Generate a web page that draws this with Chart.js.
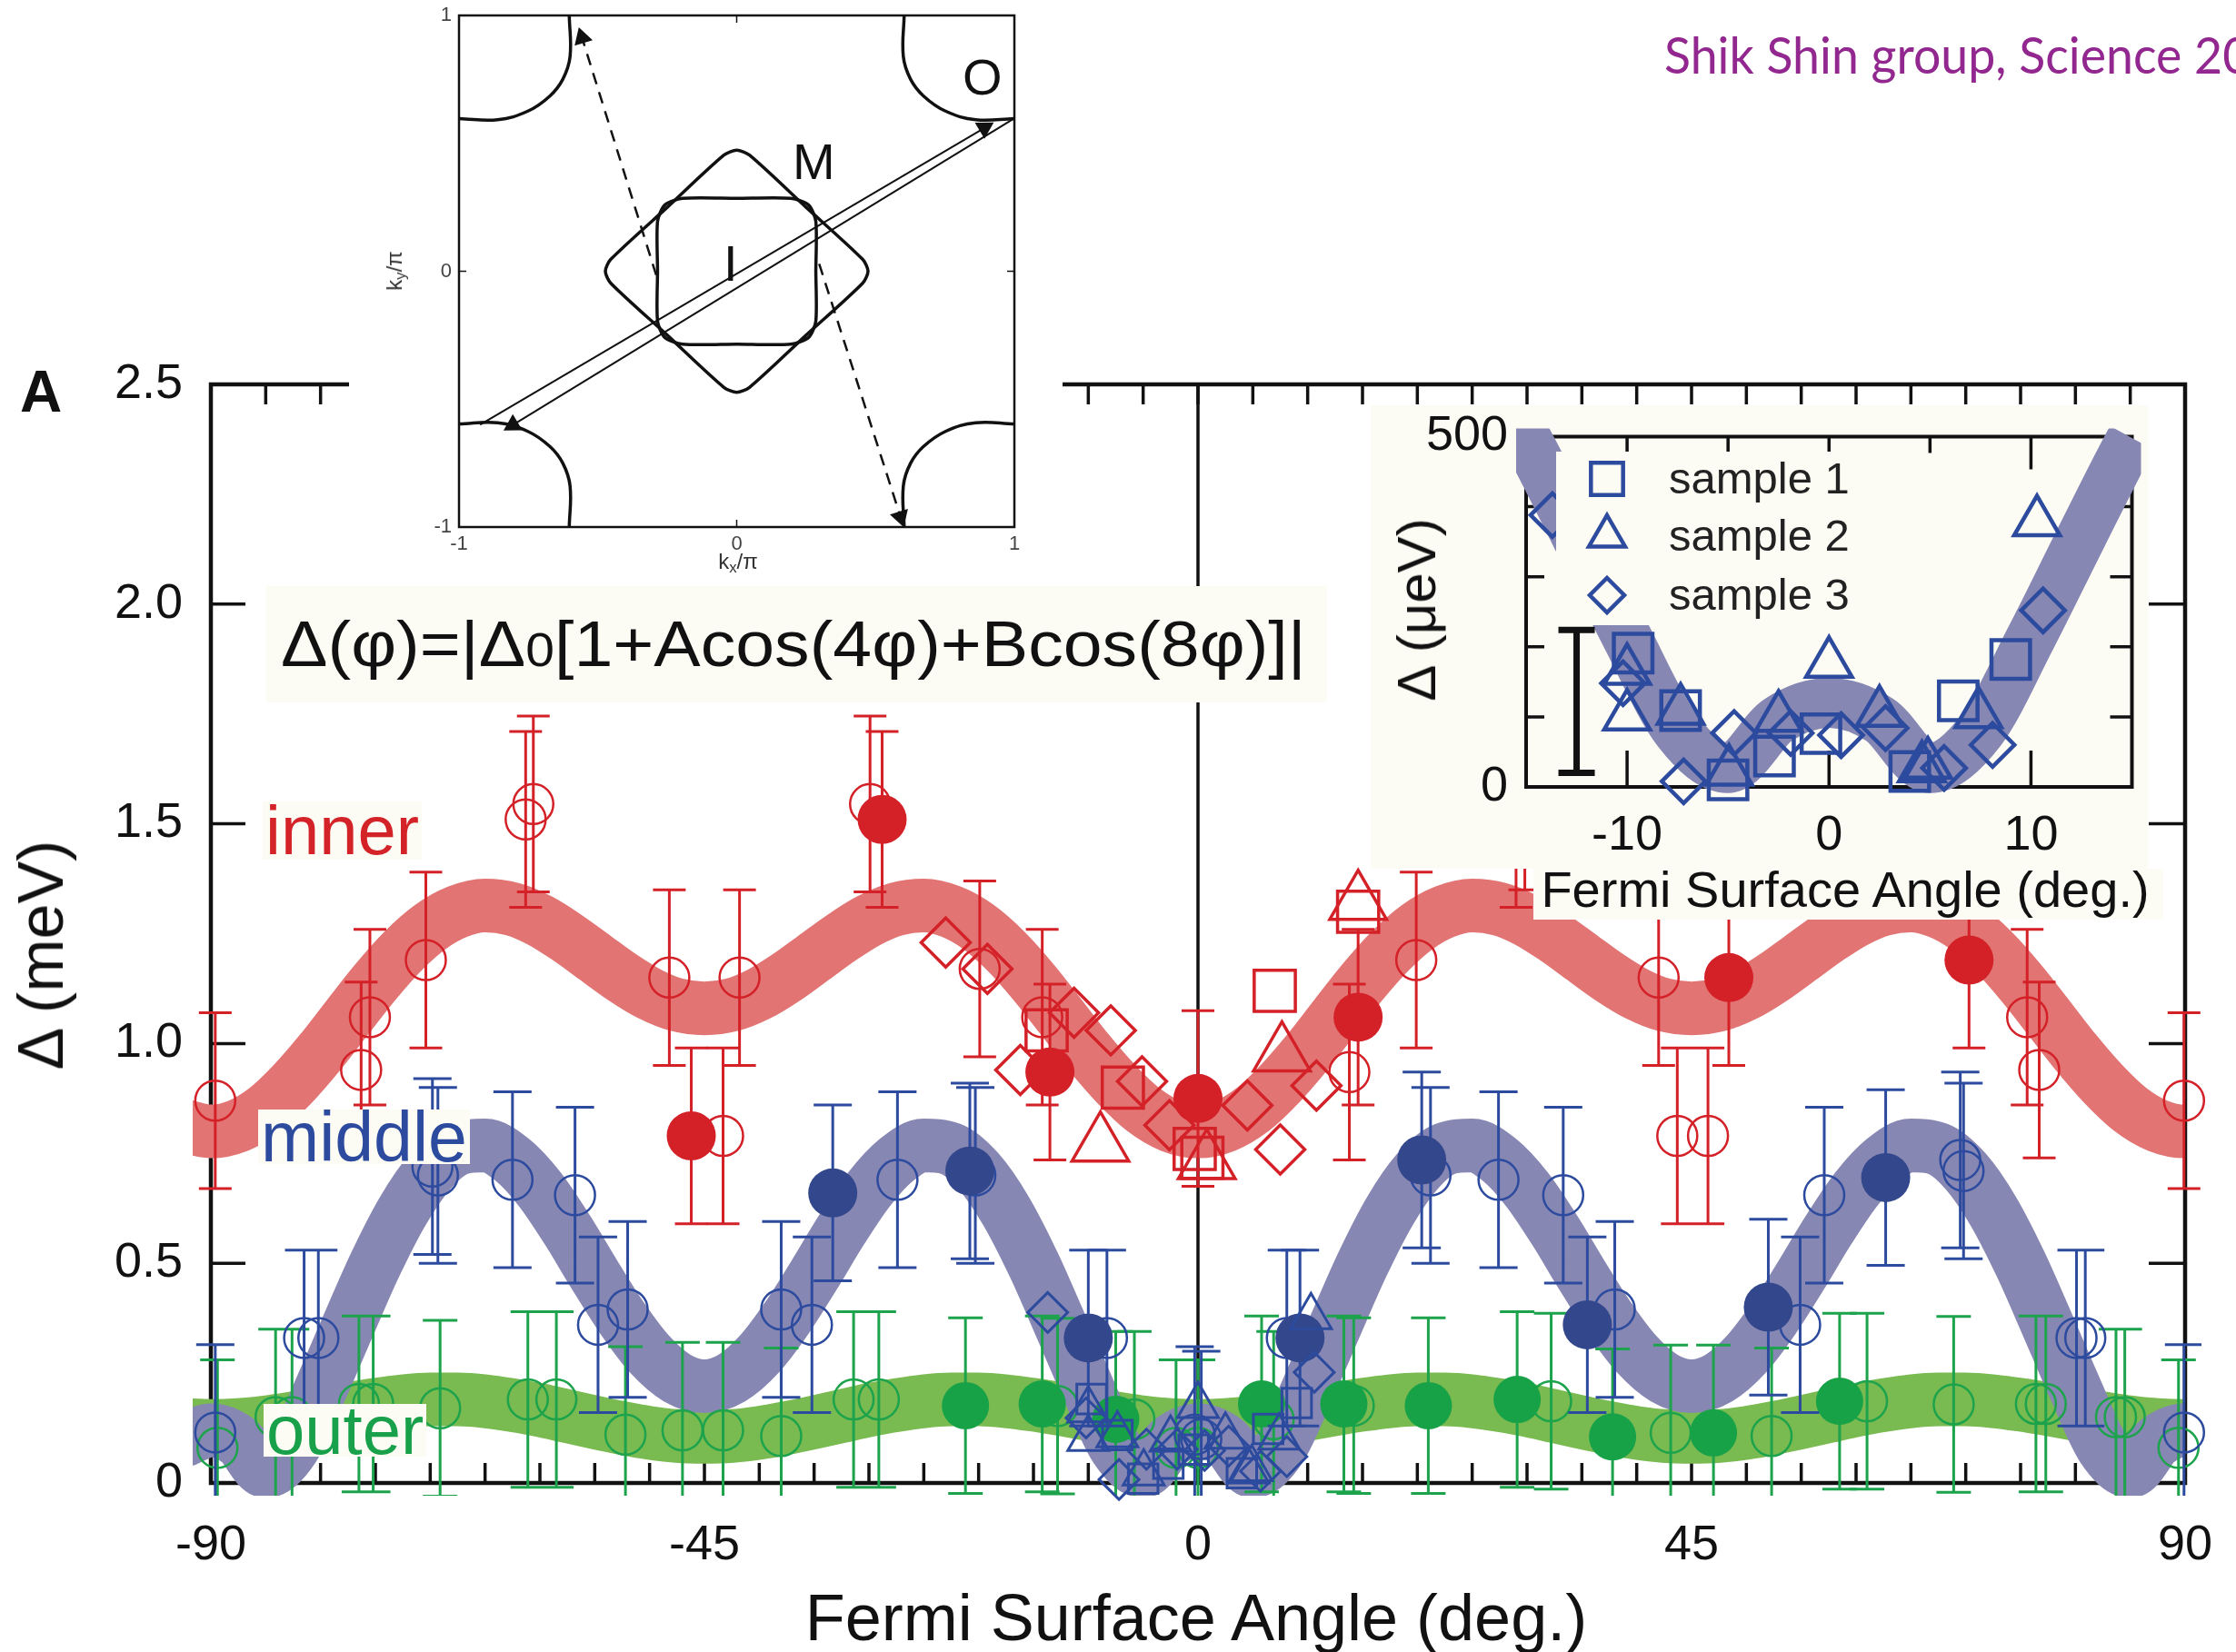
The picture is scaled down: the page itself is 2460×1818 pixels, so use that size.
<!DOCTYPE html>
<html lang="en">
<head>
<meta charset="utf-8">
<title>KFe2As2 superconducting gap vs Fermi surface angle</title>
<script src="https://cdn.jsdelivr.net/npm/chart.js@4.4.1/dist/chart.umd.min.js"></script>
<style>
  html, body { margin: 0; padding: 0; background: #ffffff; }
  body { position: relative; width: 2460px; height: 1818px; overflow: hidden;
         font-family: "Liberation Sans", Arial, Helvetica, sans-serif; color: #111; }
  canvas { position: absolute; display: block; }
  .abs { position: absolute; white-space: nowrap; line-height: 1; }
  .tag { position: absolute; white-space: nowrap; background: #fcfcf4; padding: 0 3px; }
  sub { font-size: 0.7em; vertical-align: -0.25em; line-height: 0; }
</style>
</head>
<body>
<canvas id="mainChart" width="2460" height="1818" style="left:0;top:0"></canvas>

<div class="abs" style="left:22px;top:399px;font-size:64px;font-weight:bold;">A</div>

<!-- fit function -->
<div style="position:absolute;left:293px;top:645px;width:1167px;height:128px;background:#fcfcf4;"></div>
<div class="abs" id="formula" style="left:309px;top:674px;font-size:70px;transform-origin:0 50%;">Δ(φ)=|Δ<span style="font-size:0.74em">0</span>[1+Acos(4φ)+Bcos(8φ)]|</div>

<!-- band names -->
<div class="tag" style="left:289px;top:882px;height:64px;line-height:64px;font-size:76px;color:#d42328;">inner</div>
<div class="tag" style="left:284px;top:1221px;height:60px;line-height:60px;font-size:77px;color:#2c4a9e;">middle</div>
<div class="tag" style="left:290px;top:1545px;height:58px;line-height:58px;font-size:76px;color:#19a04a;">outer</div>

<!-- axis titles -->
<div class="abs" style="left:1316px;top:1744px;font-size:72px;transform:translateX(-50%);">Fermi Surface Angle (deg.)</div>
<div class="abs" style="left:45px;top:1051px;font-size:70px;transform:translate(-50%,-50%) rotate(-90deg);">Δ (meV)</div>

<!-- Fermi surface sketch -->
<div style="position:absolute;left:384px;top:0;width:785px;height:645px;background:#ffffff;">
  <canvas id="kmapChart" width="785" height="645" style="left:0;top:0"></canvas>
</div>
<div class="abs" style="left:1059px;top:57px;font-size:56px;">O</div>
<div class="abs" style="left:872px;top:150px;font-size:56px;">M</div>
<div class="abs" style="left:796px;top:262px;font-size:56px;">I</div>
<div class="abs" style="left:434px;top:298px;font-size:24px;color:#333;transform:translate(-50%,-50%) rotate(-90deg);">k<sub>y</sub>/π</div>
<div class="abs" style="left:812px;top:618px;font-size:24px;color:#333;transform:translate(-50%,-50%);">k<sub>x</sub>/π</div>

<!-- near-node close-up -->
<canvas id="gapZoom" width="872" height="566" style="left:1508px;top:446px"></canvas>
<div class="abs" style="left:2030px;top:951px;font-size:56px;transform:translateX(-50%);">Fermi Surface Angle (deg.)</div>
<div class="abs" style="left:1559px;top:671px;font-size:60px;transform:translate(-50%,-50%) rotate(-90deg);">Δ (μeV)</div>

<div class="abs" id="credit" style="left:1831px;top:32px;font-family:Lato,'Open Sans',sans-serif;font-size:56px;color:#92278f;transform-origin:0 50%;"><span id="creditHead">Shik Shin group, Science 2</span>012</div>

<script>
// ---------------- fitted bands, Δ in meV every 2.5° ----------------
const bandAngles = [-92.5,-90,-87.5,-85,-82.5,-80,-77.5,-75,-72.5,-70,-67.5,-65,-62.5,-60,-57.5,-55,-52.5,-50,-47.5,-45,
  -42.5,-40,-37.5,-35,-32.5,-30,-27.5,-25,-22.5,-20,-17.5,-15,-12.5,-10,-7.5,-5,-2.5,0,
  2.5,5,7.5,10,12.5,15,17.5,20,22.5,25,27.5,30,32.5,35,37.5,40,42.5,45,
  47.5,50,52.5,55,57.5,60,62.5,65,67.5,70,72.5,75,77.5,80,82.5,85,87.5,90,92.5];
const innerBand = [0.813,0.800,0.813,0.850,0.909,0.981,1.061,1.140,1.210,1.265,1.300,1.314,1.306,1.280,1.241,1.196,1.151,1.113,1.088,1.080,
  1.088,1.113,1.151,1.196,1.241,1.280,1.306,1.314,1.300,1.265,1.210,1.140,1.061,0.981,0.909,0.850,0.813,0.800,
  0.813,0.850,0.909,0.981,1.061,1.140,1.210,1.265,1.300,1.314,1.306,1.280,1.241,1.196,1.151,1.113,1.088,1.080,
  1.088,1.113,1.151,1.196,1.241,1.280,1.306,1.314,1.300,1.265,1.210,1.140,1.061,0.981,0.909,0.850,0.813,0.800,0.813];
const middleBand = [0.096,0.120,0.096,0.027,0.080,0.213,0.357,0.498,0.619,0.709,0.760,0.768,0.735,0.668,0.576,0.473,0.375,0.293,0.239,0.220,
  0.239,0.293,0.375,0.473,0.576,0.668,0.735,0.768,0.760,0.709,0.619,0.498,0.357,0.213,0.080,0.027,0.096,0.120,
  0.096,0.027,0.080,0.213,0.357,0.498,0.619,0.709,0.760,0.768,0.735,0.668,0.576,0.473,0.375,0.293,0.239,0.220,
  0.239,0.293,0.375,0.473,0.576,0.668,0.735,0.768,0.760,0.709,0.619,0.498,0.357,0.213,0.080,0.027,0.096,0.120,0.096];
const outerBand = [0.132,0.130,0.132,0.138,0.147,0.157,0.168,0.178,0.186,0.190,0.190,0.186,0.177,0.166,0.152,0.138,0.125,0.114,0.107,0.105,
  0.107,0.114,0.125,0.138,0.152,0.166,0.177,0.186,0.190,0.190,0.186,0.178,0.168,0.157,0.147,0.138,0.132,0.130,
  0.132,0.138,0.147,0.157,0.168,0.178,0.186,0.190,0.190,0.186,0.177,0.166,0.152,0.138,0.125,0.114,0.107,0.105,
  0.107,0.114,0.125,0.138,0.152,0.166,0.177,0.186,0.190,0.190,0.186,0.178,0.168,0.157,0.147,0.138,0.132,0.130,0.132];

// ---------------- measured gaps [angle°, Δ meV] ----------------
const gapErr = 0.2; // meV, half length of every error bar
const innerOpen = [[-89.6,0.87],[-76.3,0.94],[-75.5,1.06],[-70.4,1.19],[-61.3,1.51],[-60.6,1.545],[-48.2,1.15],[-43.3,0.79],
  [-41.8,1.15],[-29.9,1.545],[-19.9,1.17],[-14.2,1.06],[13.8,0.935],[19.9,1.19],[29.8,1.55],[42.0,1.15],[43.7,0.79],
  [46.5,0.79],[75.6,1.06],[76.7,0.94],[89.9,0.87]];
const innerFilled = [[-46.2,0.79],[-28.8,1.51],[-13.5,0.935],[0,0.875],[14.6,1.06],[29.0,1.51],[48.4,1.15],[70.3,1.19]];
const innerSquares = [[-13.8,1.03],[-6.85,0.90],[-0.3,0.76],[0.4,0.74],[7.0,1.12],[14.6,1.30]];
const innerTriangles = [[-8.9,0.77],[0.8,0.73],[7.65,0.975],[14.6,1.32]];
const innerDiamonds = [[-23.0,1.23],[-19.2,1.17],[-16.2,0.94],[-11.3,1.07],[-7.95,1.03],[-5.1,0.914],[-2.6,0.814],
  [4.5,0.859],[7.5,0.759],[10.8,0.904]];

const middleOpen = [[-89.6,0.115],[-81.5,0.33],[-80.2,0.33],[-69.8,0.72],[-69.3,0.70],[-62.5,0.69],[-56.8,0.655],[-54.7,0.36],
  [-52.0,0.395],[-38.0,0.395],[-35.2,0.36],[-27.4,0.69],[-20.3,0.70],[-8.3,0.33],[-0.3,0.11],[0.3,0.10],[8.1,0.33],
  [21.2,0.70],[27.4,0.69],[33.3,0.655],[38.0,0.395],[54.9,0.36],[57.1,0.655],[69.5,0.735],[69.8,0.71],[80.1,0.33],
  [80.9,0.33],[89.9,0.115]];
const middleFilled = [[-33.3,0.66],[-20.8,0.71],[-10.0,0.33],[9.3,0.33],[20.4,0.735],[35.5,0.36],[52.0,0.40],[62.7,0.695]];

const outerOpen = [[-89.4,0.08],[-84.1,0.15],[-82.6,0.15],[-76.5,0.18],[-75.2,0.18],[-69.1,0.17],[-61.1,0.19],[-58.5,0.19],
  [-52.2,0.11],[-47.0,0.12],[-43.3,0.12],[-38.0,0.107],[-31.4,0.19],[-29.1,0.19],[-12.8,0.175],[-5.8,0.145],[-2.0,0.08],
  [0,0.08],[6.9,0.145],[14.2,0.176],[32.2,0.186],[43.1,0.114],[52.3,0.107],[61.0,0.186],[68.9,0.179],[76.4,0.18],
  [77.3,0.18],[83.7,0.15],[84.5,0.15],[89.4,0.08]];
const outerFilled = [[-21.2,0.176],[-14.2,0.18],[-7.5,0.145],[5.8,0.18],[13.3,0.18],[21.0,0.176],[29.1,0.19],[37.8,0.105],
  [47.0,0.114],[58.5,0.186]];

// ---------------- middle sheet near the node [angle°, Δ μeV] ----------------
const sample1 = [[-9.7,191],[-7.35,109],[-5.0,10],[-2.7,44],[-0.4,76],[4.0,22],[6.4,123],[9.0,182]];
const sample2 = [[-10.0,166],[-10.0,101],[-7.35,109],[-4.95,22],[-2.5,99],[0.0,176],[2.5,106],[4.6,27],[4.9,32],[7.4,104],[10.3,378]];
const sample3 = [[-13.7,388],[-10.2,148],[-7.2,8],[-4.7,77],[-1.9,77],[0.6,74],[2.8,84],[5.7,27],[8.1,60],[10.6,252]];
const sampleLabels = ['sample 1', 'sample 2', 'sample 3'];
const typicalError = [[-12.5, 122]];
const typicalErrorHalf = [102];

// ---------------- Fermi surface sketch (k/π) ----------------
const pocketTL = [[-0.603,1.0],[-0.6,0.84],[-0.626,0.751],[-0.673,0.685],[-0.752,0.626],[-0.861,0.592],[-1.0,0.597]];
const pocketTR = [[0.603,1.0],[0.6,0.84],[0.626,0.751],[0.673,0.685],[0.752,0.626],[0.861,0.592],[1.0,0.597]];
const pocketBL = [[-0.603,-1.0],[-0.6,-0.84],[-0.626,-0.751],[-0.673,-0.685],[-0.752,-0.626],[-0.861,-0.592],[-1.0,-0.597]];
const pocketBR = [[0.603,-1.0],[0.6,-0.84],[0.626,-0.751],[0.673,-0.685],[0.752,-0.626],[0.861,-0.592],[1.0,-0.597]];
const sheetM = [[0.25,0.25],[0.046,0.454],[0,0.473],[-0.046,0.454],[-0.25,0.25],[-0.454,0.046],[-0.473,0],[-0.454,-0.046],
  [-0.25,-0.25],[-0.046,-0.454],[0,-0.473],[0.046,-0.454],[0.25,-0.25],[0.454,-0.046],[0.473,0],[0.454,0.046],[0.25,0.25]];
const sheetI = [[0,0.285],[-0.195,0.285],[-0.259,0.259],[-0.285,0.195],[-0.285,0],[-0.285,-0.195],[-0.259,-0.259],[-0.195,-0.285],
  [0,-0.285],[0.195,-0.285],[0.259,-0.259],[0.285,-0.195],[0.285,0],[0.285,0.195],[0.259,0.259],[0.195,0.285],[0,0.285]];
const nestA = [[-0.924,-0.6],[0.892,0.56]];
const nestB = [[0.999,0.597],[-0.806,-0.601]];
const scatterUpper = [[-0.29,-0.015],[-0.557,0.913]];
const scatterLower = [[0.297,0.029],[0.59,-0.96]];
const arrowTips = [[0.892,0.56],[-0.806,-0.601],[-0.557,0.913],[0.59,-0.96]];
const arrowTipRotation = [59.5, 239.5, -17.3, 162.5];

// ---------------- tick values ----------------
const mainXTicks = [-90,-85,-80,-75,-70,-65,-60,-55,-50,-45,-40,-35,-30,-25,-20,-15,-10,-5,0,5,10,15,20,25,30,35,40,45,50,55,60,65,70,75,80,85,90];
const mainXLabels = [-90,-45,0,45,90];
const mainYTicks = [0,0.5,1,1.5,2,2.5];
const zoomXTicks = [-15,-10,-5,0,5,10,15];
const zoomXLabels = [-10,0,10];
const zoomYTicks = [0,100,200,300,400,500];
const zoomYLabels = [0,500];
const kTicks = [-1,0,1];

// ---------------- styling ----------------
const CREAM = '#fcfcf4';
const RED = '#d42027', RED_BAND = '#e27474';
const BLUE = '#2d4b9e', BLUE_FILL = '#33478c', BLUE_BAND = '#8787b4';
const GREEN = '#1ca34b', GREEN_FILL = '#17a247', GREEN_BAND = '#79ba51';
const FONT = "'Liberation Sans', Arial, Helvetica, sans-serif";

Chart.defaults.font.family = FONT;
Chart.defaults.color = '#111';
Chart.defaults.animation = false;
Chart.defaults.events = [];

const xy = (pairs, k = 1) => pairs.map(p => ({ x: p[0], y: p[1] * k }));
const fixedTicks = values => scale => { scale.ticks = values.map(v => ({ value: v })); };
// the label gap is carried by an undrawn tick length so it does not widen the layout padding
const hiddenGrid = gap => ({ display: false, drawTicks: true, tickLength: gap });
const MAIN_CLIP = { left: 20, right: 18, top: 0, bottom: 14 };

function bandSet(values, color, order, width, scale, clip, keep) {
  const data = bandAngles.map((a, i) => ({ x: a, y: values[i] * scale })).filter(p => keep(p.x));
  return { type: 'line', order, data, borderColor: color, borderWidth: width, borderCapStyle: 'butt',
    borderJoinStyle: 'round', cubicInterpolationMode: 'monotone', pointRadius: 0, fill: false, clip };
}
function markerSet(pairs, o) {
  return {
    type: 'scatter', order: o.order, data: xy(pairs, o.scale || 1), showLine: false,
    pointStyle: o.style || 'circle', pointRadius: o.r,
    pointBackgroundColor: o.fill || 'rgba(0,0,0,0)', pointBorderColor: o.color,
    pointBorderWidth: o.bw === undefined ? 3 : o.bw, clip: false,
    errorBar: o.err ? { err: o.err, color: o.errColor || o.color, width: o.errWidth || 3, cap: o.cap || 38, clip: o.errClip || MAIN_CLIP } : null
  };
}

// vertical error bars, drawn just beneath each dataset's own markers
const errorBars = {
  id: 'errorBars',
  beforeDatasetDraw(chart, args) {
    const ds = chart.data.datasets[args.index];
    const eb = ds.errorBar;
    if (!eb) return;
    const { ctx, chartArea: a, scales: { x, y } } = chart;
    ctx.save();
    ctx.beginPath();
    ctx.rect(a.left - eb.clip.left, a.top - eb.clip.top, a.width + eb.clip.left + eb.clip.right, a.height + eb.clip.top + eb.clip.bottom);
    ctx.clip();
    ctx.strokeStyle = eb.color;
    ctx.lineWidth = eb.width;
    ctx.lineCap = 'butt';
    ctx.beginPath();
    ds.data.forEach((p, i) => {
      const e = Array.isArray(eb.err) ? eb.err[i] : eb.err;
      const px = x.getPixelForValue(p.x);
      const top = y.getPixelForValue(p.y + e);
      const bot = y.getPixelForValue(p.y - e);
      ctx.moveTo(px, top); ctx.lineTo(px, bot);
      ctx.moveTo(px - eb.cap / 2, top); ctx.lineTo(px + eb.cap / 2, top);
      ctx.moveTo(px - eb.cap / 2, bot); ctx.lineTo(px + eb.cap / 2, bot);
    });
    ctx.stroke();
    ctx.restore();
  }
};

// box frame with inward tick marks
function framePlugin(cfg) {
  return {
    id: 'frame',
    beforeDatasetsDraw(chart) {
      const { ctx, chartArea: a, scales: { x, y } } = chart;
      ctx.save();
      ctx.strokeStyle = '#111';
      ctx.lineCap = 'butt';
      ctx.lineWidth = cfg.tickWidth;
      ctx.beginPath();
      x.ticks.forEach(t => {
        if (t.value <= x.min || t.value >= x.max) return;
        const px = x.getPixelForValue(t.value);
        const len = cfg.xTick(t.value);
        ctx.moveTo(px, a.bottom); ctx.lineTo(px, a.bottom - len.bottom);
        ctx.moveTo(px, a.top); ctx.lineTo(px, a.top + len.top);
      });
      y.ticks.forEach(t => {
        if (t.value <= y.min || t.value >= y.max) return;
        const py = y.getPixelForValue(t.value);
        ctx.moveTo(a.left, py); ctx.lineTo(a.left + cfg.yTick.left, py);
        ctx.moveTo(a.right, py); ctx.lineTo(a.right - cfg.yTick.right, py);
      });
      ctx.stroke();
      if (cfg.zeroLine) {
        const px = x.getPixelForValue(0);
        ctx.lineWidth = cfg.zeroLine;
        ctx.beginPath(); ctx.moveTo(px, a.top); ctx.lineTo(px, a.bottom); ctx.stroke();
      }
      ctx.lineWidth = cfg.frameWidth;
      ctx.strokeRect(a.left, a.top, a.width, a.height);
      ctx.restore();
    }
  };
}

// ---------------- main chart ----------------
new Chart(document.getElementById('mainChart'), {
  type: 'scatter',
  data: {
    datasets: [
      bandSet(outerBand, GREEN_BAND, 30, 59, 1, MAIN_CLIP, () => true),
      bandSet(middleBand, BLUE_BAND, 29, 59, 1, MAIN_CLIP, () => true),
      bandSet(innerBand, RED_BAND, 28, 59, 1, MAIN_CLIP, () => true),
      markerSet(outerOpen, { color: GREEN, r: 22, bw: 2.5, err: gapErr, cap: 38, order: 20 }),
      markerSet(outerFilled, { color: GREEN_FILL, fill: GREEN_FILL, r: 26, bw: 0, err: gapErr, errColor: GREEN, cap: 38, order: 19 }),
      markerSet(middleOpen, { color: BLUE, r: 22, bw: 2.5, err: gapErr, cap: 42, order: 18 }),
      markerSet(middleFilled, { color: BLUE_FILL, fill: BLUE_FILL, r: 27, bw: 0, err: gapErr, errColor: BLUE, cap: 42, order: 17 }),
      markerSet(sample1, { color: BLUE, style: 'rect', r: 23, bw: 3, scale: 0.001, order: 16 }),
      markerSet(sample2, { color: BLUE, style: 'triangle', r: 26, bw: 3, scale: 0.001, order: 15 }),
      markerSet(sample3, { color: BLUE, style: 'rectRot', r: 22, bw: 3, scale: 0.001, order: 14 }),
      markerSet(innerOpen, { color: RED, r: 22, bw: 2.5, err: gapErr, cap: 36, order: 13 }),
      markerSet(innerFilled, { color: RED, fill: RED, r: 27, bw: 0, err: gapErr, cap: 36, order: 12 }),
      markerSet(innerSquares, { color: RED, style: 'rect', r: 32, bw: 3.5, order: 11 }),
      markerSet(innerTriangles, { color: RED, style: 'triangle', r: 36, bw: 3.5, order: 10 }),
      markerSet(innerDiamonds, { color: RED, style: 'rectRot', r: 27, bw: 3.5, order: 9 })
    ]
  },
  options: {
    responsive: false, devicePixelRatio: 1, animation: false,
    layout: { padding: { left: 0, right: 56, top: 423, bottom: 0 } },
    scales: {
      x: {
        type: 'linear', min: -90, max: 90,
        grid: hiddenGrid(35), border: { display: false },
        afterBuildTicks: fixedTicks(mainXTicks),
        ticks: { autoSkip: false, maxRotation: 0, padding: 2, font: { size: 54 }, color: '#111',
          callback: v => (mainXLabels.includes(v) ? String(v) : '') },
        afterFit: s => { s.height = 186; }
      },
      y: {
        type: 'linear', min: 0, max: 2.5,
        grid: hiddenGrid(29), border: { display: false },
        afterBuildTicks: fixedTicks(mainYTicks),
        ticks: { autoSkip: false, padding: 2, font: { size: 54 }, color: '#111',
          callback: v => (v === 0 ? '0' : v.toFixed(1)) },
        afterFit: s => { s.width = 232; }
      }
    },
    plugins: { legend: { display: false }, tooltip: { enabled: false } }
  },
  plugins: [framePlugin({ tickWidth: 3.5, frameWidth: 4.5, zeroLine: 3.5,
    xTick: () => ({ top: 22, bottom: 22 }), yTick: { left: 38, right: 40 } }), errorBars]
});

// ---------------- close-up of the middle sheet near the node ----------------
const zoomBackdrop = {
  id: 'backdrop',
  beforeDraw(chart) {
    const ctx = chart.ctx;
    ctx.save();
    ctx.fillStyle = CREAM;
    ctx.fillRect(0, 0, 855, 510);
    ctx.fillRect(179, 510, 693, 56);
    ctx.restore();
  }
};
const sampleStyles = ['rect', 'triangle', 'rectRot'];
const sampleLegend = {
  id: 'sampleLegend',
  afterDatasetsDraw(chart) {
    const ctx = chart.ctx;
    ctx.save();
    ctx.fillStyle = CREAM;
    ctx.fillRect(204, 51, 339, 191);
    const rows = [81, 144, 209];
    const sizes = [25, 23, 19];
    ctx.strokeStyle = BLUE;
    ctx.lineWidth = 4.5;
    sampleLabels.forEach((label, i) => {
      const x = 260, y = rows[i], r = sizes[i];
      ctx.beginPath();
      if (sampleStyles[i] === 'rect') {
        const h = r * Math.SQRT1_2;
        ctx.rect(x - h, y - h, 2 * h, 2 * h);
      } else if (sampleStyles[i] === 'triangle') {
        ctx.moveTo(x, y - r); ctx.lineTo(x + r * 0.866, y + r / 2); ctx.lineTo(x - r * 0.866, y + r / 2); ctx.closePath();
      } else {
        ctx.moveTo(x, y - r); ctx.lineTo(x + r, y); ctx.lineTo(x, y + r); ctx.lineTo(x - r, y); ctx.closePath();
      }
      ctx.stroke();
      ctx.fillStyle = '#222';
      ctx.font = '49px ' + FONT;
      ctx.textBaseline = 'middle';
      ctx.fillText(label, 328, y + 2);
    });
    ctx.restore();
  }
};
const ZOOM_CLIP = { left: 11, right: 10, top: 9, bottom: 11 };
new Chart(document.getElementById('gapZoom'), {
  type: 'scatter',
  data: {
    datasets: [
      bandSet(middleBand, BLUE_BAND, 20, 55, 1000, ZOOM_CLIP, a => Math.abs(a) <= 17.5),
      markerSet(sample1, { color: BLUE, style: 'rect', r: 30, bw: 4.5, order: 6 }),
      markerSet(sample2, { color: BLUE, style: 'triangle', r: 29, bw: 4.5, order: 5 }),
      markerSet(sample3, { color: BLUE, style: 'rectRot', r: 24, bw: 4.5, order: 4 }),
      markerSet(typicalError, { color: '#111', r: 0, bw: 0, err: typicalErrorHalf, errWidth: 7, cap: 40, errClip: ZOOM_CLIP, order: 1 })
    ]
  },
  options: {
    responsive: false, devicePixelRatio: 1, animation: false,
    layout: { padding: { left: 0, right: 33, top: 33, bottom: 0 } },
    scales: {
      x: {
        type: 'linear', min: -15, max: 15,
        grid: hiddenGrid(20), border: { display: false },
        afterBuildTicks: fixedTicks(zoomXTicks),
        ticks: { autoSkip: false, maxRotation: 0, padding: 2, font: { size: 54 }, color: '#111',
          callback: v => (zoomXLabels.includes(v) ? String(v) : '') },
        afterFit: s => { s.height = 146; }
      },
      y: {
        type: 'linear', min: 0, max: 500,
        grid: hiddenGrid(20), border: { display: false },
        afterBuildTicks: fixedTicks(zoomYTicks),
        ticks: { autoSkip: false, padding: 0, font: { size: 54 }, color: '#111',
          callback: v => (zoomYLabels.includes(v) ? String(v) : '') },
        afterFit: s => { s.width = 171; }
      }
    },
    plugins: { legend: { display: false }, tooltip: { enabled: false } }
  },
  plugins: [zoomBackdrop, framePlugin({ tickWidth: 3.5, frameWidth: 4,
    xTick: v => (v % 10 === 0 ? { top: 36, bottom: 40 } : { top: 18, bottom: 18 }), yTick: { left: 20, right: 24 } }),
    errorBars, sampleLegend]
});

// ---------------- Fermi surface sketch ----------------
const curve = (pairs, tension, width, dash) => ({
  type: 'scatter', data: xy(pairs), showLine: true, fill: false, pointRadius: 0,
  borderColor: '#111', borderWidth: width, tension, borderDash: dash || [], clip: 4
});
new Chart(document.getElementById('kmapChart'), {
  type: 'scatter',
  data: {
    datasets: [
      curve(pocketTL, 0.4, 3.5), curve(pocketTR, 0.4, 3.5), curve(pocketBL, 0.4, 3.5), curve(pocketBR, 0.4, 3.5),
      curve(sheetM, 0.25, 3.5), curve(sheetI, 0.25, 3.5),
      curve(nestA, 0, 2), curve(nestB, 0, 2),
      curve(scatterUpper, 0, 2.5, [13, 9]), curve(scatterLower, 0, 2.5, [13, 9]),
      { type: 'scatter', data: xy(arrowTips), pointStyle: 'triangle', pointRadius: 12,
        pointRotation: arrowTipRotation, pointBackgroundColor: '#111', pointBorderWidth: 0, clip: false }
    ]
  },
  options: {
    responsive: false, devicePixelRatio: 1, animation: false,
    layout: { padding: { left: 0, right: 53, top: 17, bottom: 0 } },
    scales: {
      x: {
        type: 'linear', min: -1, max: 1,
        grid: hiddenGrid(4), border: { display: false },
        afterBuildTicks: fixedTicks(kTicks),
        ticks: { autoSkip: false, maxRotation: 0, padding: 2, font: { size: 22 }, color: '#444' },
        afterFit: s => { s.height = 65; }
      },
      y: {
        type: 'linear', min: -1, max: 1,
        grid: hiddenGrid(6), border: { display: false },
        afterBuildTicks: fixedTicks(kTicks),
        ticks: { autoSkip: false, padding: 2, font: { size: 22 }, color: '#444' },
        afterFit: s => { s.width = 121; }
      }
    },
    plugins: { legend: { display: false }, tooltip: { enabled: false } }
  },
  plugins: [framePlugin({ tickWidth: 1.5, frameWidth: 2.5,
    xTick: () => ({ top: 8, bottom: 8 }), yTick: { left: 8, right: 8 } })]
});

// ---------------- text fitting ----------------
const formula = document.getElementById('formula');
formula.style.transform = 'scaleX(' + (1128 / formula.getBoundingClientRect().width).toFixed(3) + ')';
const credit = document.getElementById('credit');
const head = document.getElementById('creditHead');
credit.style.transform = 'scaleX(' + (614 / head.getBoundingClientRect().width).toFixed(3) + ')';
</script>
</body>
</html>
